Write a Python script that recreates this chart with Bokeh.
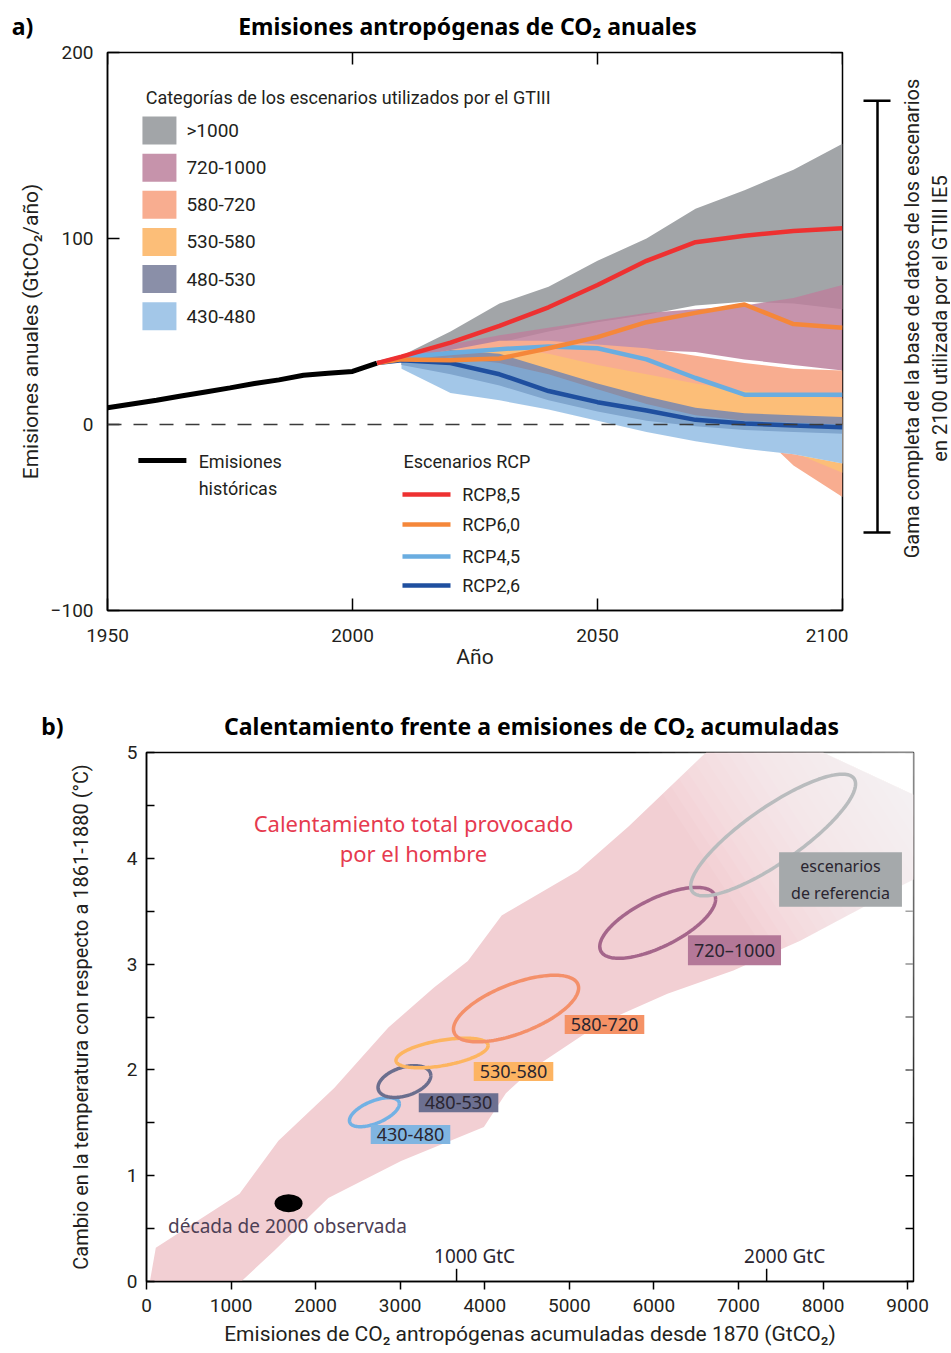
import numpy as np
from bokeh.plotting import figure
from bokeh.models import Range1d, FixedTicker, LinearAxis, Span, Label
from bokeh.layouts import column, row
from bokeh.embed import file_html
from bokeh.resources import INLINE
from bokeh.core.properties import value

FONT = "Roboto"
SANS = "Noto Sans"
INK = "#231f20"

# ---------------- Panel a data ----------------
hist_years = [1950, 1955, 1960, 1965, 1970, 1975, 1980, 1985, 1990, 1995, 2000, 2005]
hist_emis = [9, 11, 13, 15.3, 17.5, 19.7, 22, 24, 26.5, 27.5, 28.5, 33]

rcp_years = [2005, 2010, 2020, 2030, 2040, 2050, 2060, 2070, 2080, 2090, 2100]
rcp85 = [33, 36.5, 44, 53, 63, 75, 88, 98, 101.5, 104, 105.5]
rcp60 = [33, 35, 34.5, 35.5, 41, 47, 55, 60, 64.5, 54, 52]
rcp45 = [33, 36, 38.5, 40.5, 42, 41, 35, 25, 16, 16, 16]
rcp26 = [33, 34.5, 33, 27, 18, 12, 7.5, 2.5, 0.5, -0.5, -1.5]

band_years = [2010, 2020, 2030, 2040, 2050, 2060, 2070, 2080, 2090, 2100]
cat_names = [">1000", "720-1000", "580-720", "530-580", "480-530", "430-480"]
cat_colors = ["#a2a5a8", "#c693ab", "#f8ad90", "#fcbe78", "#8a8fa8", "#a3c7e8"]
band_fill = ["#a2a5a8", "#bc809c", "#f8ad90", "#fcbe78", "#8a8fa8", "#7cafde"]
band_alpha = [1.0, 0.85, 1.0, 1.0, 1.0, 0.7]
band_hi = [
    [37, 50, 65, 74, 88, 100, 116, 126, 137, 151],
    [36, 43, 48, 52, 56, 60, 62, 64, 68, 75],
    [35, 40, 45, 45, 43, 41, 37, 33, 30, 29],
    [34, 39, 42, 38, 32, 27, 22, 18, 16, 14],
    [34, 40, 38, 30, 22, 15, 9, 6, 5, 4],
    [34, 36, 33, 27, 19, 11, 5, 2, 1, 0],
]
band_lo = [
    [34, 38, 44, 50, 55, 59, 64, 66, 65, 62],
    [33, 36, 38, 41, 42, 40, 39, 35, 32, 29],
    [32, 31, 27, 21, 16, 11, 7, 3, -22, -39],
    [32, 29, 24, 17, 11, 7, 4, 2, -15, -26],
    [32, 27, 21, 13, 7, 2, -1, -3, -4, -5],
    [30, 17, 13, 8, 2, -4, -9, -13, -16, -21],
]
rcp_names = ["RCP8,5", "RCP6,0", "RCP4,5", "RCP2,6"]
rcp_colors = ["#ee3131", "#f5873a", "#6aade0", "#1f4f9f"]
bracket_2100 = [-58, 174]   # full range of the AR5 WGIII database in 2100

# ---------------- Panel b data ----------------
plume_x = [40, 110, 1100, 1560, 2220, 2860, 3400, 3800, 4200, 5100, 5700, 6550, 6620,
           8000, 9070, 9070, 8700, 8500, 7730, 6940, 6160, 5370, 4580, 4250, 3990,
           3010, 2150, 1510, 1120]
plume_T = [0.0, 0.32, 0.83, 1.33, 1.83, 2.40, 2.78, 3.03, 3.46, 3.88, 4.30, 4.95, 5.0,
           5.0, 4.6, 3.8, 3.65, 3.55, 3.22, 2.94, 2.72, 2.44, 2.02, 1.78, 1.46,
           1.14, 0.79, 0.29, 0.0]

ell_names = ["430-480", "480-530", "530-580", "580-720", "720\u20131000", "escenarios\nde referencia"]
ell_cx = [2695, 3050, 3495, 4370, 6045, 7410]
ell_cT = [1.60, 1.89, 2.16, 2.58, 3.39, 4.22]
ell_dx = [295, 312, 545, 740, 685, 975]
ell_dT = [0.137, 0.15, 0.14, 0.315, 0.335, 0.575]
ell_phase = [55, 68, 60, 52, 48, 33]
ell_colors = ["#72b1e4", "#6b6e8e", "#fdb560", "#f4906a", "#a5668b", "#b9bcbe"]
ell_box = ["#80b5e1", "#6d7091", "#fdb462", "#f59266", "#b47898", "#a5a9ab"]
ell_label_x = [3122, 3690, 4340, 5416, 6953, 8207]
ell_label_T = [1.39, 1.69, 1.985, 2.43, 3.13, 3.80]

obs_x = [1680]
obs_T = [0.74]
gtc_marks = [1000, 2000]          # GtC
gtco2_per_gtc = 44.0 / 12.0


def lab(p, x, y, text, size, font=FONT, color=INK, style="normal", align="left",
        baseline="middle", angle=0.0, **kw):
    p.add_layout(Label(x=x, y=y, text=text, text_font=font, text_font_size=f"{size}px",
                       text_color=color, text_font_style=style, text_align=align,
                       text_baseline=baseline, angle=angle, **kw))


def axis(ticks, size=19, tick_in=12, tick_out=0, standoff=14, minor=None, overrides=None,
         label=None, label_size=21, label_standoff=5):
    ax = LinearAxis(ticker=FixedTicker(ticks=ticks, minor_ticks=minor or []))
    ax.axis_line_color = "black"
    ax.axis_line_width = 1.5
    ax.major_tick_line_color = "black"
    ax.major_tick_line_width = 1.5
    ax.major_tick_in = tick_in
    ax.major_tick_out = tick_out
    if minor:
        ax.minor_tick_line_color = "black"
        ax.minor_tick_line_width = 1.5
        ax.minor_tick_in = tick_in
        ax.minor_tick_out = 0
    else:
        ax.minor_tick_line_color = None
    ax.major_label_text_font = FONT
    ax.major_label_text_font_size = f"{size}px"
    ax.major_label_text_color = INK
    ax.major_label_standoff = standoff
    if overrides:
        ax.major_label_overrides = overrides
    if label:
        ax.axis_label = label
        ax.axis_label_text_font = FONT
        ax.axis_label_text_font_style = "normal"
        ax.axis_label_text_font_size = f"{label_size}px"
        ax.axis_label_text_color = INK
        ax.axis_label_standoff = label_standoff
    return ax


def header(width, height):
    h = figure(width=width, height=height, x_range=Range1d(0, width), y_range=Range1d(0, height),
               output_backend="svg", toolbar_location=None, x_axis_type=None, y_axis_type=None,
               min_border_left=0, min_border_right=0, min_border_top=0, min_border_bottom=0)
    h.outline_line_color = None
    return h


def head_text(h, x, y, text):
    h.text(x=[x], y=[y], text=[text], text_font=value(SANS), text_font_style="bold",
           text_font_size="23px", text_color="black", text_align="center", text_baseline="middle")


# =============== Panel a ===============
ha = header(950, 40)
head_text(ha, 467, 15, "Emisiones antropógenas de CO\u2082 anuales")
head_text(ha, 22, 15, "a)")

a_yticks = [-100, 0, 100, 200]
a_xticks = [1950, 2000, 2050, 2100]
pa = figure(width=848, height=648, x_range=Range1d(1950, 2100), y_range=Range1d(-100, 200),
            output_backend="svg", toolbar_location=None, x_axis_type=None, y_axis_type=None,
            min_border_left=107, min_border_right=6, min_border_top=12, min_border_bottom=78)
pa.outline_line_color = "black"
pa.outline_line_width = 1.5
pa.add_layout(axis(a_yticks, standoff=14, overrides={-100: "\u2212100"},
                   label="Emisiones anuales (GtCO\u2082/año)", label_standoff=5), "left")
pa.add_layout(axis(a_xticks, standoff=18, label="Año", label_standoff=0), "below")
# mirrored inward ticks on top and right edges
pa.ray(x=a_xticks, y=[pa.y_range.end] * 4, length=12, length_units="screen", angle=-np.pi / 2,
       line_color="black", line_width=1.5)
pa.ray(x=[pa.x_range.end] * 4, y=a_yticks, length=12, length_units="screen", angle=np.pi,
       line_color="black", line_width=1.5)

for i, (hi, lo, c, a) in enumerate(zip(band_hi, band_lo, band_fill, band_alpha)):
    if i == 4:
        # opaque white backing under the two blue categories
        pa.varea(x=band_years, y1=band_lo[5], y2=band_hi[5], fill_color="white")
    pa.varea(x=band_years, y1=lo, y2=hi, fill_color=c, fill_alpha=a)

pa.add_layout(Span(location=0, dimension="width", line_color="#3a3a3a", line_width=1.6,
                   line_dash="14 12"))

pa.line(hist_years, hist_emis, line_color="black", line_width=5)
for series, c in zip([rcp26, rcp45, rcp60, rcp85], rcp_colors[::-1]):
    pa.line(rcp_years, series, line_color=c, line_width=4.5)

# legend: categories
lab(pa, 1957.8, 175.8, "Categorías de los escenarios utilizados por el GTIII", 18)
leg_y = [158.0 - 19.95 * i for i in range(len(cat_names))]
pa.rect(x=[1960.6] * len(cat_names), y=leg_y, width=34, height=28, width_units="screen",
        height_units="screen", fill_color=cat_colors, line_color=None)
for name, yy in zip(cat_names, leg_y):
    lab(pa, 1966.1, yy, name, 19)

# legend: historical
pa.line([1956.3, 1966.1], [-19.4, -19.4], line_color="black", line_width=5)
lab(pa, 1968.6, -19.9, "Emisiones", 18)
lab(pa, 1968.6, -34.4, "históricas", 18)

# legend: RCP
lab(pa, 2010.4, -19.9, "Escenarios RCP", 18)
rcp_leg_y = [-37.6, -53.8, -71.0, -86.6]
pa.segment(x0=[2010.2] * 4, x1=[2020.0] * 4, y0=rcp_leg_y, y1=rcp_leg_y,
           line_color=rcp_colors, line_width=4.5)
for name, yy in zip(rcp_names, rcp_leg_y):
    lab(pa, 2022.4, yy, name, 18)

# bracket figure
pbr = figure(width=102, height=648, x_range=Range1d(0, 102), y_range=pa.y_range,
             output_backend="svg", toolbar_location=None, x_axis_type=None, y_axis_type=None,
             min_border_left=0, min_border_right=0, min_border_top=12, min_border_bottom=78)
pbr.outline_line_color = None
pbr.segment(x0=[29], x1=[29], y0=[bracket_2100[0]], y1=[bracket_2100[1]],
            line_color="black", line_width=2.5)
pbr.segment(x0=[15, 15], x1=[42, 42], y0=bracket_2100, y1=bracket_2100,
            line_color="black", line_width=2.5)
pbr.text(x=[63, 91], y=[57, 57],
         text=["Gama completa de la base de datos de los escenarios",
               "en 2100 utilizada por el GTIII IE5"],
         angle=np.pi / 2, text_align="center", text_baseline="middle",
         text_font=value(FONT), text_font_size="20px", text_color=INK)

# =============== Panel b ===============
hb = header(950, 52)
head_text(hb, 531, 15, "Calentamiento frente a emisiones de CO\u2082 acumuladas")
head_text(hb, 52, 15, "b)")

b_yticks = [0, 1, 2, 3, 4, 5]
half = [0.5, 1.5, 2.5, 3.5, 4.5]
pb = figure(width=943, height=612, x_range=Range1d(0, 9070), y_range=Range1d(0, 5),
            output_backend="svg", toolbar_location=None, x_axis_type=None, y_axis_type=None,
            min_border_left=146, min_border_right=30, min_border_top=12, min_border_bottom=71)
pb.outline_line_color = "black"
pb.outline_line_width = 1.5
pb.add_layout(axis(b_yticks, tick_in=8, standoff=9, minor=half,
                   label="Cambio en la temperatura con respecto a 1861-1880 (°C)",
                   label_size=20, label_standoff=31), "left")
pb.add_layout(axis(list(range(0, 9001, 1000)), tick_in=0, tick_out=8, standoff=9,
                   label="Emisiones de CO\u2082 antropógenas acumuladas desde 1870 (GtCO\u2082)",
                   label_size=21, label_standoff=7), "below")
pb.ray(x=[pb.x_range.end] * 11, y=b_yticks + half, length=8, length_units="screen", angle=np.pi,
       line_color="black", line_width=1.5)

pb.patch(plume_x, plume_T, fill_color="#f2cfd3", line_color=None)
# fade of the plume toward its upper end
for k in range(30):
    s = 700 + k * 11
    xs = [(s + 58 * 1) / 0.0709, 20000, 20000, (s - 58 * 6) / 0.0709]
    pb.patch(xs, [-1, -1, 6, 6], fill_color="white", fill_alpha=0.08, line_color=None)

t = np.linspace(0, 2 * np.pi, 160)
for cx, cT, dx, dT, ph, c in zip(ell_cx, ell_cT, ell_dx, ell_dT, ell_phase, ell_colors):
    pb.line(cx + dx * np.cos(t), cT + dT * np.cos(t - np.radians(ph)), line_color=c, line_width=3.5)

for name, lx, lT, bc in zip(ell_names, ell_label_x, ell_label_T, ell_box):
    multi = "\n" in name
    pb.add_layout(Label(x=lx, y=lT, text=name, text_font=SANS,
                        text_font_size="16px" if multi else "18px",
                        text_color="#2a2530", text_align="center", text_baseline="middle",
                        background_fill_color=bc,
                        padding=dict(left=12, right=12, top=3, bottom=3) if multi
                        else dict(left=6, right=6, top=3, bottom=3)))

pb.ellipse(x=obs_x, y=obs_T, width=28, height=18, width_units="screen", height_units="screen",
           fill_color="black", line_color=None)
lab(pb, 1667, 0.52, "década de 2000 observada", 19, font=SANS, color="#4d4055", align="center")

gtc_x = [g * gtco2_per_gtc for g in gtc_marks]
pb.segment(x0=gtc_x, x1=gtc_x, y0=[0, 0], y1=[0.12, 0.12], line_color="black", line_width=1.5)
for g, gx in zip(gtc_marks, gtc_x):
    lab(pb, gx, 0.245, f"{g} GtC", 19, font=SANS, color="#2a2530", align="center", x_offset=18)

lab(pb, 3157, 4.33, "Calentamiento total provocado", 22, font=SANS, color="#e63a4f", align="center")
lab(pb, 3157, 4.05, "por el hombre", 22, font=SANS, color="#e63a4f", align="center")

layout = column(row(ha), row(pa, pbr), row(hb), row(pb))
open("out.html", "w").write(file_html(layout, INLINE))
